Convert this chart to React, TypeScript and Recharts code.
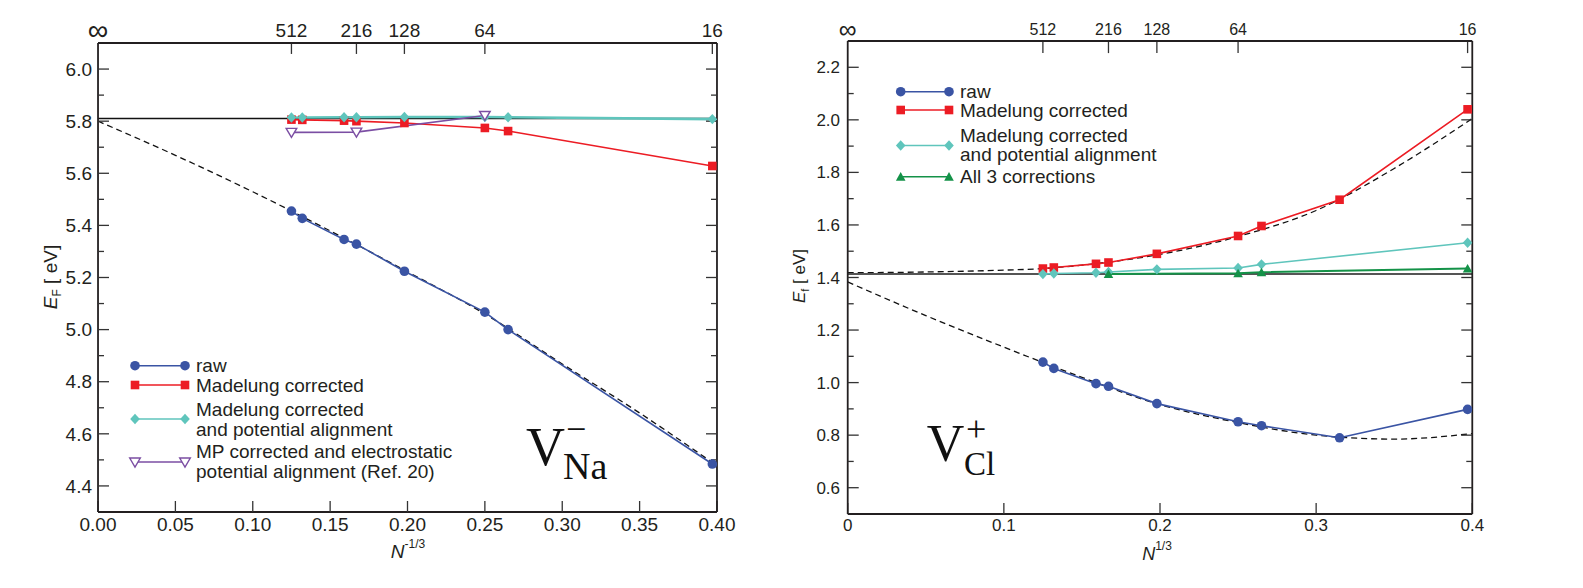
import React from "react";
import { LineChart, Line, XAxis, YAxis, Legend, ReferenceLine } from "recharts";

const FONT = "'Liberation Sans', Arial, Helvetica, sans-serif";
const SERIF = "'Liberation Serif', 'Times New Roman', serif";
const INK = "#231f20";

const BLUE = "#3a54a4";
const RED = "#ec1c24";
const TEAL = "#5fc5bc";
const PURPLE = "#7b4ea3";
const GREEN = "#149248";

// thin axis bands: recharts skips an axis of zero size
const BAND = 0.01;

// ---- left panel: V_Na^-  (x = N^-1/3)
const naX = [0.125, 0.132, 0.159, 0.167, 0.198, 0.25, 0.265, 0.397];
const naRaw = [5.455, 5.427, 5.346, 5.328, 5.224, 5.067, 5.0, 4.484];
const naMadelung = [5.806, 5.805, 5.802, 5.8, 5.793, 5.774, 5.762, 5.628];
const naAligned = [5.814, 5.814, 5.815, 5.815, 5.816, 5.816, 5.815, 5.808];
const naMpX = [0.125, 0.167, 0.25];
const naMp = [5.757, 5.758, 5.822];
const naFitX = [0, 0.05, 0.1, 0.15, 0.2, 0.25, 0.3, 0.35, 0.397];
const naFit = [5.8, 5.669, 5.529, 5.379, 5.222, 5.06, 4.868, 4.68, 4.49];
const naLimitX = [0, 0.4];
const naLimit = [5.81, 5.81];

// ---- right panel: V_Cl^+
const clX = [0.125, 0.132, 0.159, 0.167, 0.198, 0.25, 0.265, 0.315, 0.397];
const clRaw = [1.078, 1.054, 0.996, 0.986, 0.92, 0.851, 0.836, 0.79, 0.898];
const clMadelung = [1.434, 1.438, 1.452, 1.457, 1.49, 1.558, 1.596, 1.696, 2.04];
const clAlignedX = [0.125, 0.132, 0.159, 0.167, 0.198, 0.25, 0.265, 0.397];
const clAligned = [1.413, 1.415, 1.418, 1.421, 1.431, 1.436, 1.45, 1.532];
const clAllX = [0.167, 0.25, 0.265, 0.397];
const clAll = [1.413, 1.416, 1.42, 1.434];
const clFitHiX = [0, 0.05, 0.1, 0.125, 0.15, 0.2, 0.25, 0.3, 0.35, 0.4];
const clFitHi = [1.418, 1.421, 1.428, 1.434, 1.447, 1.488, 1.556, 1.655, 1.815, 2.005];
const clFitLoX = [0, 0.05, 0.1, 0.15, 0.2, 0.25, 0.3, 0.35, 0.4];
const clFitLo = [1.383, 1.255, 1.135, 1.02, 0.916, 0.848, 0.8, 0.785, 0.806];
const clLimitX = [0, 0.4];
const clLimit = [1.413, 1.413];

// ---- ticks (top scale: supercell size N placed at N^-1/3)
const cellTicks = [0.125, 0.167, 0.198, 0.25, 0.397];
const cellLabels = ["512", "216", "128", "64", "16"];
const naXTicks = [0, 0.05, 0.1, 0.15, 0.2, 0.25, 0.3, 0.35, 0.4];
const naXMinor = [0.025, 0.075, 0.125, 0.175, 0.225, 0.275, 0.325, 0.375];
const naYTicks = [4.4, 4.6, 4.8, 5.0, 5.2, 5.4, 5.6, 5.8, 6.0];
const naYMinor = [4.5, 4.7, 4.9, 5.1, 5.3, 5.5, 5.7, 5.9];
const clXTicks = [0, 0.1, 0.2, 0.3, 0.4];
const clXMinor = [0.02, 0.04, 0.06, 0.08, 0.12, 0.14, 0.16, 0.18, 0.22, 0.24, 0.26, 0.28, 0.32, 0.34, 0.36, 0.38];
const clYTicks = [0.6, 0.8, 1.0, 1.2, 1.4, 1.6, 1.8, 2.0, 2.2];
const clYMinor = [0.7, 0.9, 1.1, 1.3, 1.5, 1.7, 1.9, 2.1];

const zip = (xs: number[], ys: number[]) => xs.map((x, i) => ({ x, y: ys[i] }));

// ---- markers
type Mk = (cx: number, cy: number, k?: any) => React.ReactElement;
const circle = (c: string): Mk => (cx, cy, k) => <circle key={k} cx={cx} cy={cy} r={4.8} fill={c} stroke="none" />;
const square = (c: string): Mk => (cx, cy, k) => (
  <rect key={k} x={cx - 4.3} y={cy - 4.3} width={8.6} height={8.6} fill={c} />
);
const diamond = (c: string): Mk => (cx, cy, k) => (
  <polygon key={k} points={`${cx},${cy - 5.2} ${cx + 4.8},${cy} ${cx},${cy + 5.2} ${cx - 4.8},${cy}`} fill={c} />
);
const triDown = (c: string): Mk => (cx, cy, k) => (
  <polygon key={k} points={`${cx - 5.3},${cy - 4} ${cx + 5.3},${cy - 4} ${cx},${cy + 5}`} fill="#fff" stroke={c} strokeWidth={1.4} />
);
const triUp = (c: string): Mk => (cx, cy, k) => (
  <polygon key={k} points={`${cx - 4.8},${cy + 4} ${cx + 4.8},${cy + 4} ${cx},${cy - 4.6}`} fill={c} />
);
const dotOf = (m: Mk) => (p: any) => (p.cx == null ? <g key={p.index} /> : m(p.cx, p.cy, p.index));

interface Series {
  label: string[];
  color: string;
  width: number;
  marker: Mk;
  data: { x: number; y: number }[];
}

const naSeries: Series[] = [
  { label: ["raw"], color: BLUE, width: 1.6, marker: circle(BLUE), data: zip(naX, naRaw) },
  { label: ["Madelung corrected"], color: RED, width: 1.6, marker: square(RED), data: zip(naX, naMadelung) },
  {
    label: ["Madelung corrected", "and potential alignment"],
    color: TEAL,
    width: 2.6,
    marker: diamond(TEAL),
    data: zip(naX, naAligned),
  },
  {
    label: ["MP corrected and electrostatic", "potential alignment (Ref. 20)"],
    color: PURPLE,
    width: 1.6,
    marker: triDown(PURPLE),
    data: zip(naMpX, naMp),
  },
];

const clSeries: Series[] = [
  { label: ["raw"], color: BLUE, width: 1.6, marker: circle(BLUE), data: zip(clX, clRaw) },
  { label: ["Madelung corrected"], color: RED, width: 1.6, marker: square(RED), data: zip(clX, clMadelung) },
  {
    label: ["Madelung corrected", "and potential alignment"],
    color: TEAL,
    width: 1.6,
    marker: diamond(TEAL),
    data: zip(clAlignedX, clAligned),
  },
  { label: ["All 3 corrections"], color: GREEN, width: 2, marker: triUp(GREEN), data: zip(clAllX, clAll) },
];

interface LegendLayout {
  lineX: [number, number];
  textX: number;
  rows: { marker: number; lines: number[] }[];
}

const LegendBox = ({ series, lay, w, h }: { series: Series[]; lay: LegendLayout; w: number; h: number }) => (
  <svg width={w} height={h} style={{ display: "block", overflow: "visible" }}>
    {series.map((s, i) => {
      const r = lay.rows[i];
      return (
        <g key={i}>
          <line x1={lay.lineX[0]} x2={lay.lineX[1]} y1={r.marker} y2={r.marker} stroke={s.color} strokeWidth={1.6} />
          {s.marker(lay.lineX[0], r.marker, "a")}
          {s.marker(lay.lineX[1], r.marker, "b")}
          {s.label.map((t, j) => (
            <text key={j} x={lay.textX} y={r.lines[j] + 6.5} fontSize={19} fontFamily={FONT} fill={INK}>
              {t}
            </text>
          ))}
        </g>
      );
    })}
  </svg>
);

interface PanelProps {
  width: number;
  margin: { top: number; right: number; bottom: number; left: number };
  yDomain: [number, number];
  xTicks: number[];
  xMinor: number[];
  yTicks: number[];
  yMinor: number[];
  xFmt: (v: number) => string;
  tickFont: number;
  topFont: number;
  infFont: number;
  xMargin: number;
  yMargin: number;
  topOffset: number;
  topTickLen: number; // in y units
  fits: { x: number; y: number }[][];
  limit: { x: number; y: number }[];
  limitColor: string;
  limitWidth: number;
  series: Series[];
  legend: { left: number; top: number; w: number; h: number; lay: LegendLayout };
  children?: React.ReactNode;
}

function Panel(p: PanelProps) {
  const tickStyle = { fontSize: p.tickFont, fill: INK, fontFamily: FONT };
  const axisLine = { stroke: INK, strokeWidth: 1.8 };
  const tickLine = { stroke: "#333", strokeWidth: 1.3 };
  const empty = () => "";
  const yTop = p.yDomain[1];
  return (
    <LineChart width={p.width} height={588} margin={p.margin}>
      <XAxis
        xAxisId="x"
        dataKey="x"
        type="number"
        domain={[0, 0.4]}
        allowDataOverflow
        ticks={p.xTicks}
        interval={0}
        tickFormatter={p.xFmt}
        height={BAND}
        tickSize={-11}
        tickMargin={p.xMargin}
        axisLine={axisLine}
        tickLine={tickLine}
        tick={tickStyle}
      />
      <XAxis
        xAxisId="xm"
        type="number"
        domain={[0, 0.4]}
        allowDataOverflow
        ticks={p.xMinor}
        interval={0}
        tickFormatter={empty}
        height={BAND}
        tickSize={-6}
        axisLine={false}
        tickLine={tickLine}
      />
      <XAxis
        xAxisId="xt"
        orientation="top"
        type="number"
        domain={[0, 0.4]}
        allowDataOverflow
        height={BAND}
        tick={false}
        tickLine={false}
        axisLine={axisLine}
      />
      <YAxis
        yAxisId="y"
        type="number"
        domain={p.yDomain}
        allowDataOverflow
        ticks={p.yTicks}
        interval={0}
        tickFormatter={(v: number) => v.toFixed(1)}
        width={BAND}
        tickSize={-11}
        tickMargin={p.yMargin}
        axisLine={axisLine}
        tickLine={tickLine}
        tick={tickStyle}
      />
      <YAxis
        yAxisId="ym"
        type="number"
        domain={p.yDomain}
        allowDataOverflow
        ticks={p.yMinor}
        interval={0}
        tickFormatter={empty}
        width={BAND}
        tickSize={-6}
        axisLine={false}
        tickLine={tickLine}
      />
      <YAxis
        yAxisId="yr"
        orientation="right"
        type="number"
        domain={p.yDomain}
        allowDataOverflow
        ticks={p.yTicks}
        interval={0}
        tickFormatter={empty}
        width={BAND}
        tickSize={-11}
        axisLine={axisLine}
        tickLine={tickLine}
      />
      <YAxis
        yAxisId="yrm"
        orientation="right"
        type="number"
        domain={p.yDomain}
        allowDataOverflow
        ticks={p.yMinor}
        interval={0}
        tickFormatter={empty}
        width={BAND}
        tickSize={-6}
        axisLine={false}
        tickLine={tickLine}
      />
      {/* top scale: supercell size */}
      {cellTicks.map((v, i) => (
        <ReferenceLine
          key={"top" + i}
          xAxisId="x"
          yAxisId="y"
          ifOverflow="visible"
          segment={[
            { x: v, y: yTop },
            { x: v, y: yTop - p.topTickLen },
          ]}
          stroke="#333"
          strokeWidth={1.3}
          label={{ value: cellLabels[i], position: "top", offset: p.topOffset, fontSize: p.topFont, fill: INK, fontFamily: FONT }}
        />
      ))}
      <ReferenceLine
        xAxisId="x"
        yAxisId="y"
        ifOverflow="visible"
        segment={[
          { x: 0, y: yTop },
          { x: 0, y: yTop - p.topTickLen },
        ]}
        stroke="none"
        label={{ value: "∞", position: "top", offset: p.topOffset - 3, fontSize: p.infFont, fill: INK, fontFamily: FONT }}
      />
      {p.fits.map((f, i) => (
        <Line
          key={"fit" + i}
          xAxisId="x"
          yAxisId="y"
          data={f}
          dataKey="y"
          type="monotone"
          stroke="#111"
          strokeWidth={1.3}
          strokeDasharray="6 4"
          dot={false}
          activeDot={false}
          legendType="none"
          isAnimationActive={false}
        />
      ))}
      <Line
        xAxisId="x"
        yAxisId="y"
        data={p.limit}
        dataKey="y"
        type="linear"
        stroke={p.limitColor}
        strokeWidth={p.limitWidth}
        dot={false}
        activeDot={false}
        legendType="none"
        isAnimationActive={false}
      />
      {p.series.map((s, i) => (
        <Line
          key={"s" + i}
          name={s.label.join(" ")}
          xAxisId="x"
          yAxisId="y"
          data={s.data}
          dataKey="y"
          type="linear"
          stroke={s.color}
          strokeWidth={s.width}
          dot={dotOf(s.marker)}
          activeDot={false}
          isAnimationActive={false}
        />
      ))}
      <Legend
        layout="vertical"
        align="center"
        verticalAlign="middle"
        wrapperStyle={{ left: p.legend.left, top: p.legend.top, width: p.legend.w, height: p.legend.h }}
        content={() => <LegendBox series={p.series} lay={p.legend.lay} w={p.legend.w} h={p.legend.h} />}
      />
      {p.children}
    </LineChart>
  );
}

export default function App() {
  return (
    <div style={{ position: "absolute", left: 0, top: 0, width: 1583, height: 588, background: "#fff" }}>
      <div style={{ position: "absolute", left: 0, top: 0 }}>
        <Panel
          width={780}
          margin={{ top: 43, right: 63, bottom: 76, left: 98 }}
          yDomain={[4.3, 6.1]}
          xTicks={naXTicks}
          xMinor={naXMinor}
          yTicks={naYTicks}
          yMinor={naYMinor}
          xFmt={(v) => v.toFixed(2)}
          tickFont={19}
          topFont={19}
          infFont={29}
          xMargin={17}
          yMargin={17}
          topOffset={6.3}
          topTickLen={0.042}
          fits={[zip(naFitX, naFit)]}
          limit={zip(naLimitX, naLimit)}
          limitColor="#111"
          limitWidth={1.5}
          series={naSeries}
          legend={{
            left: 120,
            top: 350,
            w: 330,
            h: 130,
            lay: {
              lineX: [15, 65],
              textX: 76,
              rows: [
                { marker: 15.7, lines: [15.7] },
                { marker: 35, lines: [35] },
                { marker: 69, lines: [59, 79] },
                { marker: 112, lines: [101, 121] },
              ],
            },
          }}
        >
          <text transform="translate(57,277) rotate(-90)" textAnchor="middle" fontSize={19} fontFamily={FONT} fill={INK}>
            <tspan fontStyle="italic">E</tspan>
            <tspan fontSize={12} dy={4}>F</tspan>
            <tspan dy={-4}>{"  [ eV]"}</tspan>
          </text>
          <text x={408} y={558} textAnchor="middle" fontSize={19} fontFamily={FONT} fill={INK}>
            <tspan fontStyle="italic">N</tspan>
            <tspan fontSize={12} dy={-10}>-1/3</tspan>
          </text>
          <text x={526} y={465} fontSize={54} fontFamily={SERIF} fill="#111">V</text>
          <text x={566} y={441} fontSize={36} fontFamily={SERIF} fill="#111">−</text>
          <text x={563} y={479} fontSize={38} fontFamily={SERIF} fill="#111">Na</text>
        </Panel>
      </div>
      <div style={{ position: "absolute", left: 780, top: 0 }}>
        <Panel
          width={803}
          margin={{ top: 41, right: 110.7, bottom: 74, left: 67.7 }}
          yDomain={[0.5, 2.3]}
          xTicks={clXTicks}
          xMinor={clXMinor}
          yTicks={clYTicks}
          yMinor={clYMinor}
          xFmt={(v) => (v === 0 ? "0" : String(v))}
          tickFont={17}
          topFont={16}
          infFont={25}
          xMargin={16}
          yMargin={18.7}
          topOffset={6}
          topTickLen={0.046}
          fits={[zip(clFitHiX, clFitHi), zip(clFitLoX, clFitLo)]}
          limit={zip(clLimitX, clLimit)}
          limitColor="#555"
          limitWidth={2}
          series={clSeries}
          legend={{
            left: 100,
            top: 75,
            w: 330,
            h: 115,
            lay: {
              lineX: [20.7, 69],
              textX: 80,
              rows: [
                { marker: 16.7, lines: [16.7] },
                { marker: 35, lines: [35] },
                { marker: 70.5, lines: [60, 79] },
                { marker: 101.7, lines: [101.7] },
              ],
            },
          }}
        >
          <text transform="translate(25,276) rotate(-90)" textAnchor="middle" fontSize={17} fontFamily={FONT} fill={INK}>
            <tspan fontStyle="italic">E</tspan>
            <tspan fontSize={11} dy={4}>f</tspan>
            <tspan dy={-4}>{"  [ eV]"}</tspan>
          </text>
          <text x={377} y={560} textAnchor="middle" fontSize={18} fontFamily={FONT} fill={INK}>
            <tspan fontStyle="italic">N</tspan>
            <tspan fontSize={12} dy={-10}>1/3</tspan>
          </text>
          <text x={146.7} y={460.7} fontSize={52} fontFamily={SERIF} fill="#111">V</text>
          <text x={186} y={441} fontSize={36} fontFamily={SERIF} fill="#111">+</text>
          <text x={184} y={475} fontSize={33} fontFamily={SERIF} fill="#111">Cl</text>
        </Panel>
      </div>
    </div>
  );
}
